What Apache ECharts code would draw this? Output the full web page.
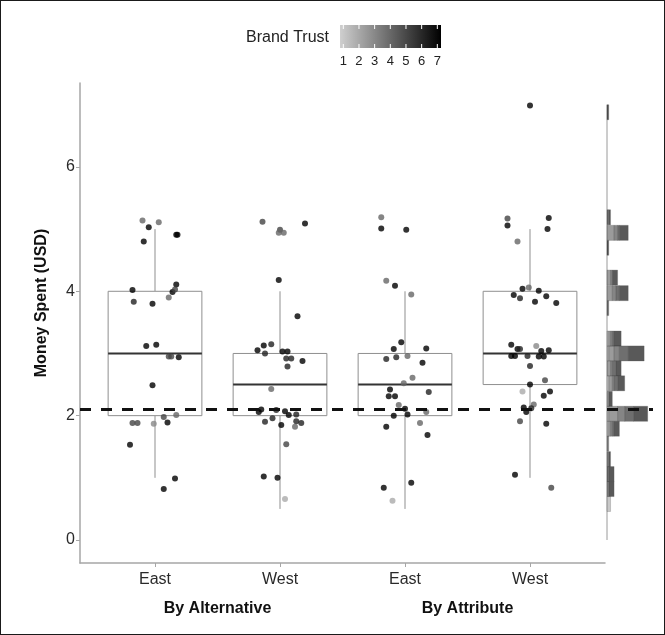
<!DOCTYPE html>
<html>
<head>
<meta charset="utf-8">
<script src="https://cdn.jsdelivr.net/npm/echarts@6/dist/echarts.min.js"></script>
<style>
  html, body { margin: 0; padding: 0; background: #fff; }
  #frame { width: 665px; height: 635px; box-sizing: border-box; border: 1px solid #1a1a1a; }
  #chart { width: 663px; height: 633px; }
</style>
</head>
<body>
<div id="frame"><div id="chart"></div></div>
<script>
var categories = ['East', 'West', 'East', 'West'];
var groups = ['By Alternative', 'By Attribute'];
var yTicks = [0, 2, 4, 6];
var trustTicks = [1, 2, 3, 4, 5, 6, 7];
var refLine = 2.1;

// box stats per category
var boxMin = [1, 0.5, 0.5, 1];
var boxQ1 = [2, 2, 2, 2.5];
var boxMed = [3, 2.5, 2.5, 3];
var boxQ3 = [4, 3, 3, 4];
var boxMax = [5, 4, 4, 5];

// jittered points: value, horizontal jitter, brand trust
var altEastVal = [5.14, 5.03, 5.11, 4.80, 4.91, 4.91, 4.11, 4.02, 3.99, 4.03, 3.90, 3.83, 3.80, 3.12, 3.14, 2.95, 2.95, 2.94, 2.49, 1.98, 2.01, 1.89, 1.88, 1.88, 1.87, 1.53, 0.82, 0.99];
var altEastJit = [-0.10, -0.05, 0.03, -0.09, 0.17, 0.18, 0.17, -0.18, 0.14, 0.16, 0.11, -0.17, -0.02, -0.07, 0.01, 0.11, 0.13, 0.19, -0.02, 0.07, 0.17, 0.10, -0.18, -0.14, -0.01, -0.20, 0.07, 0.16];
var altEastTrust = [4, 7, 4, 7, 7, 7, 7, 7, 7, 5, 4, 6, 7, 7, 7, 5, 5, 7, 7, 5, 4, 7, 5, 5, 3, 7, 7, 7];

var altWestVal = [5.12, 5.09, 4.99, 4.94, 4.94, 4.18, 3.60, 3.05, 3.13, 3.15, 3.00, 3.03, 3.03, 2.92, 2.92, 2.79, 2.88, 2.43, 2.10, 2.06, 2.09, 2.07, 2.01, 2.02, 1.90, 1.96, 1.85, 1.91, 1.88, 1.82, 1.54, 1.02, 1.00, 0.66];
var altWestJit = [-0.14, 0.20, 0.00, -0.01, 0.03, -0.01, 0.14, -0.18, -0.13, -0.07, -0.12, 0.02, 0.06, 0.05, 0.09, 0.06, 0.18, -0.07, -0.15, -0.17, -0.03, 0.04, 0.07, 0.13, -0.12, -0.06, 0.01, 0.13, 0.17, 0.12, 0.05, -0.13, -0.02, 0.04];
var altWestTrust = [5, 7, 5, 4, 4, 7, 7, 7, 7, 6, 6, 7, 7, 6, 6, 6, 7, 4, 7, 7, 6, 7, 7, 6, 6, 6, 7, 6, 6, 4, 5, 7, 7, 2];

var attrEastVal = [5.19, 5.01, 4.99, 4.17, 4.09, 3.95, 3.18, 3.07, 3.08, 2.91, 2.94, 2.96, 2.85, 2.61, 2.52, 2.42, 2.38, 2.31, 2.31, 2.17, 2.11, 2.06, 2.00, 2.02, 1.88, 1.82, 1.69, 0.84, 0.63, 0.92];
var attrEastJit = [-0.19, -0.19, 0.01, -0.15, -0.08, 0.05, -0.03, -0.09, 0.17, -0.15, -0.07, 0.02, 0.14, 0.06, -0.01, -0.12, 0.19, -0.13, -0.08, -0.05, 0.00, 0.17, -0.09, 0.02, 0.12, -0.15, 0.18, -0.17, -0.10, 0.05];
var attrEastTrust = [4, 7, 7, 4, 7, 4, 7, 7, 7, 6, 6, 4, 7, 4, 4, 7, 6, 7, 7, 4, 7, 4, 7, 7, 4, 7, 7, 7, 2, 7];

var attrWestVal = [6.99, 5.17, 5.18, 5.06, 5.00, 4.80, 4.04, 4.06, 4.01, 3.94, 3.89, 3.92, 3.83, 3.81, 3.14, 3.07, 3.07, 3.12, 3.05, 3.04, 2.96, 2.96, 2.96, 2.95, 2.95, 2.80, 2.57, 2.50, 2.39, 2.39, 2.32, 2.18, 2.13, 2.12, 2.06, 1.91, 1.87, 1.05, 0.84];
var attrWestJit = [0.00, -0.18, 0.15, -0.18, 0.14, -0.10, -0.06, -0.01, 0.07, -0.13, -0.08, 0.13, 0.04, 0.21, -0.15, -0.10, -0.08, 0.05, 0.15, 0.09, -0.15, -0.12, -0.02, 0.07, 0.11, 0.00, 0.12, 0.00, -0.06, 0.16, 0.11, 0.03, -0.05, 0.01, -0.03, -0.08, 0.13, -0.12, 0.17];
var attrWestTrust = [7, 5, 7, 7, 7, 4, 7, 4, 7, 7, 6, 7, 7, 7, 7, 7, 6, 3, 7, 7, 7, 7, 6, 7, 7, 6, 5, 7, 2, 7, 7, 4, 7, 6, 7, 5, 7, 7, 5];

// marginal histogram: bin centres and counts per brand trust level 1..7
var histBinWidth = 0.2425;
var histCenters = [0.58, 0.82, 1.06, 1.30, 1.55, 1.79, 2.03, 2.27, 2.52, 2.76, 3.00, 3.24, 3.73, 3.97, 4.22, 4.70, 4.94, 5.19, 6.88];
var histCounts = [
    [0, 2, 0, 0, 0, 0, 0],
    [0, 0, 0, 0, 1, 0, 3],
    [0, 0, 0, 0, 0, 1, 3],
    [0, 0, 0, 0, 1, 0, 1],
    [0, 0, 0, 0, 1, 0, 0],
    [0, 0, 1, 1, 1, 1, 3],
    [0, 0, 1, 5, 4, 5, 8],
    [0, 0, 0, 1, 0, 0, 2],
    [0, 1, 0, 2, 1, 2, 4],
    [0, 0, 0, 2, 1, 2, 3],
    [0, 0, 1, 3, 3, 5, 9],
    [0, 0, 1, 1, 1, 1, 4],
    [0, 0, 0, 0, 0, 1, 0],
    [0, 0, 0, 3, 2, 2, 5],
    [0, 0, 0, 2, 1, 0, 3],
    [0, 0, 0, 0, 0, 0, 1],
    [0, 0, 0, 4, 2, 1, 5],
    [0, 0, 0, 0, 0, 1, 1],
    [0, 0, 0, 0, 0, 0, 1]
];

var FONT = 'Liberation Sans, Arial, sans-serif';
var trustColors = ['#cccccc', '#000000'];

var pointData = [];
function addGroup(pos, vals, jit, trust) {
    for (var i = 0; i < vals.length; i++) {
        pointData.push([pos + jit[i], vals[i], trust[i]]);
    }
}
addGroup(1, altEastVal, altEastJit, altEastTrust);
addGroup(2, altWestVal, altWestJit, altWestTrust);
addGroup(3, attrEastVal, attrEastJit, attrEastTrust);
addGroup(4, attrWestVal, attrWestJit, attrWestTrust);

var boxData = categories.map(function (c, i) {
    return [i + 1, boxMin[i], boxQ1[i], boxMed[i], boxQ3[i], boxMax[i]];
});

var histData = [];
histCenters.forEach(function (c, b) {
    var acc = 0;
    histCounts[b].forEach(function (n, t) {
        if (!n) return;
        histData.push([c - histBinWidth / 2, c + histBinWidth / 2, acc, acc + n, t + 1]);
        acc += n;
    });
});
var histTop = histCenters[histCenters.length - 1] + histBinWidth / 2;

var axisGray = '#a6a6a6';
var labelColor = '#2a2a2a';

// legend (colour bar) graphics
var barX = 339, barY = 24, barW = 101, barH = 23;
var tickX0 = 342.3, tickStep = 15.67;
var legendEls = [
    {
        type: 'text', x: 328, y: 37,
        style: { text: 'Brand Trust', font: '16px ' + FONT, fill: '#222', align: 'right', textAlign: 'right', verticalAlign: 'middle', textVerticalAlign: 'middle' }
    },
    {
        type: 'rect', shape: { x: barX, y: barY, width: barW, height: barH },
        style: {
            fill: new echarts.graphic.LinearGradient(0, 0, 1, 0, [
                { offset: 0, color: '#cfcfcf' },
                { offset: 1, color: '#000000' }
            ])
        }
    }
];
trustTicks.forEach(function (t) {
    var x = tickX0 + (t - 1) * tickStep;
    legendEls.push({
        type: 'text', x: x, y: 60,
        style: { text: String(t), font: '13px ' + FONT, fill: '#222', align: 'center', textAlign: 'center', verticalAlign: 'middle', textVerticalAlign: 'middle' }
    });
    legendEls.push({ type: 'line', shape: { x1: x, y1: barY, x2: x, y2: barY + 4 }, style: { stroke: '#fff', lineWidth: 1 } });
    legendEls.push({ type: 'line', shape: { x1: x, y1: barY + barH - 4, x2: x, y2: barY + barH }, style: { stroke: '#fff', lineWidth: 1 } });
});
legendEls.push({
    type: 'text', x: 41, y: 302, rotation: Math.PI / 2,
    style: { text: 'Money Spent (USD)', font: 'bold 16px ' + FONT, fill: '#111', align: 'center', textAlign: 'center', verticalAlign: 'middle', textVerticalAlign: 'middle' }
});

var chart = echarts.init(document.getElementById('chart'));

var option = {
    backgroundColor: '#fff',
    animation: false,
    textStyle: { fontFamily: FONT },
    graphic: { elements: legendEls },
    grid: [
        { left: 79, top: 82, width: 525, height: 480 },
        { left: 606, top: 82, width: 46, height: 480 }
    ],
    xAxis: [
        {
            gridIndex: 0, type: 'value', min: 0.4, max: 4.6,
            axisLine: { show: true, onZero: false, lineStyle: { color: axisGray, width: 1.5 } },
            axisTick: { show: true, length: 4, customValues: [1, 2, 3, 4], lineStyle: { color: axisGray } },
            axisLabel: {
                customValues: [1, 2, 3, 4], color: labelColor, fontSize: 16, margin: 9,
                formatter: function (v) { return categories[Math.round(v) - 1]; }
            },
            splitLine: { show: false }
        },
        {
            gridIndex: 0, type: 'value', min: 0.4, max: 4.6, position: 'bottom',
            axisLine: { show: false }, axisTick: { show: false },
            axisLabel: {
                customValues: [1.5, 3.5], color: '#111', fontSize: 16, fontWeight: 'bold', margin: 38,
                formatter: function (v) { return groups[v < 2.5 ? 0 : 1]; }
            },
            splitLine: { show: false }
        },
        { gridIndex: 1, type: 'value', min: 0, max: 26, show: false }
    ],
    yAxis: [
        {
            gridIndex: 0, type: 'value', min: -0.37, max: 7.35,
            axisLine: { show: true, onZero: false, lineStyle: { color: axisGray, width: 1.5 } },
            axisTick: { show: true, length: 4, customValues: yTicks, lineStyle: { color: axisGray } },
            axisLabel: { customValues: yTicks, color: labelColor, fontSize: 16, margin: 5 },
            splitLine: { show: false }
        },
        { gridIndex: 1, type: 'value', min: -0.37, max: 7.35, show: false }
    ],
    visualMap: [
        { type: 'continuous', show: false, min: 1, max: 7, dimension: 2, seriesIndex: 1, inRange: { color: trustColors } },
        { type: 'continuous', show: false, min: 1, max: 7, dimension: 4, seriesIndex: 3, inRange: { color: trustColors } }
    ],
    series: [
        {
            type: 'custom', xAxisIndex: 0, yAxisIndex: 0, z: 1, silent: true,
            encode: { x: 0, y: [1, 2, 3, 4, 5] },
            data: boxData,
            renderItem: function (params, api) {
                var x = api.value(0);
                var half = 0.375;
                var pMin = api.coord([x, api.value(1)]);
                var pQ1 = api.coord([x, api.value(2)]);
                var pMed = api.coord([x, api.value(3)]);
                var pQ3 = api.coord([x, api.value(4)]);
                var pMax = api.coord([x, api.value(5)]);
                var left = api.coord([x - half, 0])[0];
                var right = api.coord([x + half, 0])[0];
                var lineStyle = { stroke: '#8f8f8f', lineWidth: 1 };
                return {
                    type: 'group',
                    children: [
                        { type: 'line', shape: { x1: pMax[0], y1: pMax[1], x2: pQ3[0], y2: pQ3[1] }, style: lineStyle },
                        { type: 'line', shape: { x1: pQ1[0], y1: pQ1[1], x2: pMin[0], y2: pMin[1] }, style: lineStyle },
                        { type: 'rect', shape: { x: left, y: pQ3[1], width: right - left, height: pQ1[1] - pQ3[1] }, style: { fill: '#fff', stroke: '#8f8f8f', lineWidth: 1 } },
                        { type: 'line', shape: { x1: left, y1: pMed[1], x2: right, y2: pMed[1] }, style: { stroke: '#333', lineWidth: 2 } }
                    ]
                };
            }
        },
        {
            type: 'scatter', xAxisIndex: 0, yAxisIndex: 0, z: 3,
            symbolSize: 6,
            data: pointData,
            markLine: {
                silent: true, symbol: 'none', label: { show: false },
                lineStyle: { color: '#111', width: 3, type: [11, 10] },
                data: [{ yAxis: refLine }]
            }
        },
        {
            type: 'line', xAxisIndex: 2, yAxisIndex: 1, z: 1, silent: true,
            symbol: 'none',
            lineStyle: { color: '#9a9a9a', width: 1 },
            data: [[0, 0], [0, histTop]],
            markLine: {
                silent: true, symbol: 'none', label: { show: false },
                lineStyle: { color: '#111', width: 3, type: [11, 10] },
                data: [{ yAxis: refLine }]
            }
        },
        {
            type: 'custom', xAxisIndex: 2, yAxisIndex: 1, z: 2, silent: true,
            encode: { x: [2, 3], y: [0, 1] },
            data: histData,
            renderItem: function (params, api) {
                var a = api.coord([api.value(2), api.value(1)]);
                var b = api.coord([api.value(3), api.value(0)]);
                return {
                    type: 'rect',
                    shape: { x: a[0], y: a[1], width: b[0] - a[0], height: b[1] - a[1] },
                    style: { fill: api.visual('color'), stroke: '#555', lineWidth: 0.4, opacity: 0.65 }
                };
            }
        }
    ]
};

chart.setOption(option);
</script>
</body>
</html>
